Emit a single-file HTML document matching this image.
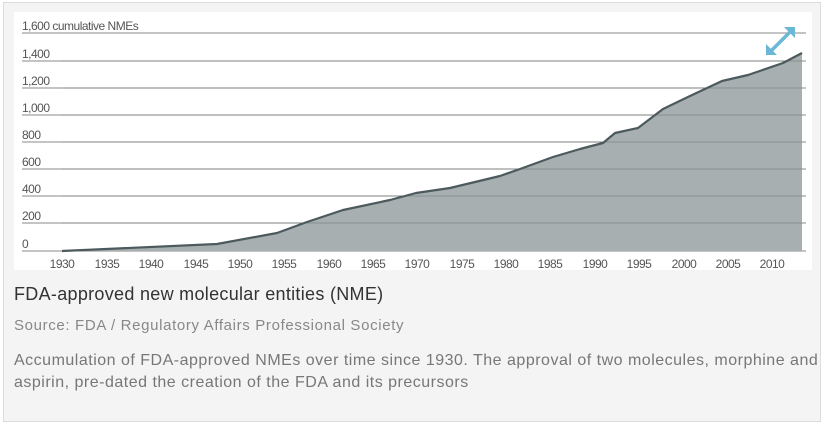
<!DOCTYPE html>
<html><head><meta charset="utf-8"><style>
html,body{margin:0;padding:0;width:824px;height:417px;overflow:hidden;background:#fff}
.box{position:absolute;left:3px;top:2px;width:818px;height:420px;background:#f4f4f4;border:1px solid #dcdcdc;box-sizing:border-box}
.chart{position:absolute;left:14px;top:12px;width:798px;height:258px;background:#fff}
.t{position:absolute;left:14px;font-family:"Liberation Sans",sans-serif;white-space:nowrap}
</style></head><body>
<div class="box"></div>
<div class="chart"></div>
<svg width="824" height="417" style="position:absolute;left:0;top:0" font-family="Liberation Sans, sans-serif">
<g stroke="#8a8a8a" stroke-width="1">
<line x1="22" x2="806" y1="33" y2="33"/><line x1="22" x2="806" y1="61" y2="61"/>
<line x1="22" x2="806" y1="88" y2="88"/><line x1="22" x2="806" y1="115" y2="115"/>
<line x1="22" x2="806" y1="142" y2="142"/><line x1="22" x2="806" y1="169" y2="169"/>
<line x1="22" x2="806" y1="196" y2="196"/><line x1="22" x2="806" y1="223" y2="223"/>
<line x1="22" x2="806" y1="251" y2="251"/>
</g>
<path d="M62,251 L217,244 L277,233 L307,222 L343,210 L390,200 L416,193 L450,188 L500,176 L520,169 L553,157 L580,149 L603,143 L615,133 L638,128 L663,109 L690,96 L722,81 L748,75 L783,63 L802,53 L802,251 Z" fill="#a7afb0"/>
<g stroke="#757b7d" stroke-width="1" opacity="0.6">
<line x1="62" x2="802" y1="223" y2="223"/><line x1="62" x2="802" y1="196" y2="196"/><line x1="62" x2="802" y1="169" y2="169"/><line x1="62" x2="802" y1="142" y2="142"/><line x1="62" x2="802" y1="115" y2="115"/><line x1="62" x2="802" y1="88" y2="88"/><line x1="62" x2="802" y1="61" y2="61"/>
</g>
<path d="M62,251 L217,244 L277,233 L307,222 L343,210 L390,200 L416,193 L450,188 L500,176 L520,169 L553,157 L580,149 L603,143 L615,133 L638,128 L663,109 L690,96 L722,81 L748,75 L783,63 L802,53" fill="none" stroke="#4c5a5e" stroke-width="2.2" stroke-linejoin="round"/>
<g font-size="12" fill="#555" letter-spacing="-0.5">
<text x="22" y="30">1,600 cumulative NMEs</text><text x="22" y="58">1,400</text>
<text x="22" y="85">1,200</text><text x="22" y="112">1,000</text><text x="22" y="139">800</text>
<text x="22" y="166">600</text><text x="22" y="193">400</text><text x="22" y="220">200</text>
<text x="22" y="248">0</text>
</g>
<g font-size="12" fill="#555" text-anchor="middle" letter-spacing="-0.5">
<text x="62" y="268">1930</text><text x="107" y="268">1935</text><text x="151" y="268">1940</text>
<text x="196" y="268">1945</text><text x="240" y="268">1950</text><text x="284" y="268">1955</text>
<text x="329" y="268">1960</text><text x="373" y="268">1965</text><text x="417" y="268">1970</text>
<text x="462" y="268">1975</text><text x="506" y="268">1980</text><text x="550" y="268">1985</text>
<text x="595" y="268">1990</text><text x="639" y="268">1995</text><text x="684" y="268">2000</text>
<text x="728" y="268">2005</text><text x="772" y="268">2010</text>
</g>
<g stroke="#6bb8d6" stroke-width="3.5" fill="#6bb8d6">
<line x1="771" y1="51" x2="790" y2="32"/>
<polygon points="766,55 766,44 777,55" stroke="none"/>
<polygon points="795,27 795,38 784,27" stroke="none"/>
</g>
</svg>
<div class="t" style="top:284px;font-size:18px;letter-spacing:0.3px;color:#333">FDA-approved new molecular entities (NME)</div>
<div class="t" style="top:317px;font-size:15px;letter-spacing:0.65px;color:#888">Source: FDA / Regulatory Affairs Professional Society</div>
<div class="t" style="top:350px;font-size:16px;letter-spacing:0.5px;color:#777;line-height:22px">Accumulation of FDA-approved NMEs over time since 1930. The approval of two molecules, morphine and<br>aspirin, pre-dated the creation of the FDA and its precursors</div>
</body></html>
